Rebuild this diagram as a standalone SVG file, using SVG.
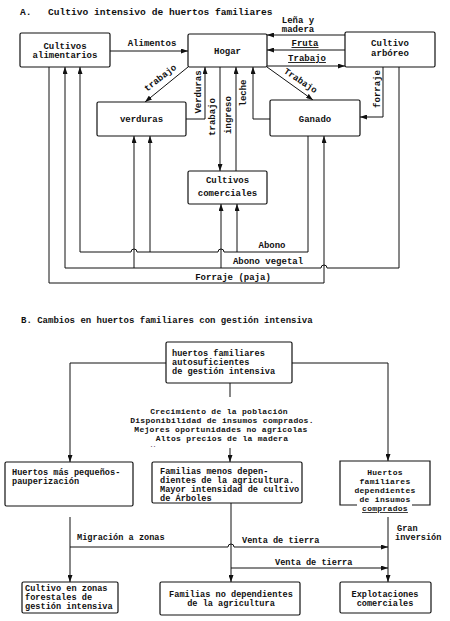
<svg xmlns="http://www.w3.org/2000/svg" width="450" height="621" viewBox="0 0 450 621">
<defs>
<style>
.t{font-family:'Liberation Mono','DejaVu Sans Mono',monospace;font-size:9px;fill:#111;font-weight:bold}
.s{font-size:8.6px}
.c{font-size:8px;letter-spacing:0.3px}
.m{text-anchor:middle}
.u{text-decoration:underline}
.box{fill:#fff;stroke:#111;stroke-width:1.2}
.ln{fill:none;stroke:#111;stroke-width:1}
.ar{marker-end:url(#ah)}
</style>
<marker id="ah" markerWidth="7" markerHeight="5" refX="7" refY="2.5" orient="auto" markerUnits="userSpaceOnUse">
<path d="M0,0 L7,2.5 L0,5 z" fill="#111"/>
</marker>
</defs>
<rect width="450" height="621" fill="#fff"/>

<!-- Part A -->
<text class="t" x="20" y="15" style="font-size:9.6px">A.</text>
<text class="t" x="48" y="15" style="font-size:9.6px">Cultivo intensivo de huertos familiares</text>

<g id="connectors-a">
<path class="ln ar" d="M110,51 H188"/>
<path class="ln ar" d="M345,35 H267"/>
<path class="ln ar" d="M345,50 H267"/>
<path class="ln ar" d="M267,66 H345"/>
<path class="ln ar" d="M188,67 L145,102"/>
<path class="ln ar" d="M267,67 L313,100"/>
<path class="ln ar" d="M186,119 H205 V67"/>
<path class="ln ar" d="M220,67 V171"/>
<path class="ln ar" d="M236,171 V67"/>
<path class="ln ar" d="M270,119 H253 V67"/>
<path class="ln ar" d="M383,67 V117 H360"/>
<path class="ln ar" d="M49,67 V283 H324 V136"/>
<path class="ln ar" d="M399,67 V268 H327 a3,3 0 0 0 -6,0 H65 V67"/>
<path class="ln ar" d="M134,268 V136"/>
<path class="ln ar" d="M221,268 V204"/>
<path class="ln ar" d="M308,136 V252 H224 a3,3 0 0 0 -6,0 H137 a3,3 0 0 0 -6,0 H80 V67"/>
<path class="ln ar" d="M150,252 V136"/>
<path class="ln ar" d="M237,252 V204"/>
<text class="t m" x="152" y="46">Alimentos</text>
<text class="t m" x="298" y="23">Leña y</text>
<text class="t m" x="298" y="32">madera</text>
<text class="t m u" x="305" y="46">Fruta</text>
<text class="t m u" x="307" y="61">Trabajo</text>
<text class="t m" transform="translate(162,80) rotate(-38)">trabajo</text>
<text class="t m" transform="translate(299,83) rotate(34)">Trabajo</text>
<text class="t m" transform="translate(201,92) rotate(-90)">Verduras</text>
<text class="t m" transform="translate(215,117) rotate(-90)">trabajo</text>
<text class="t m" transform="translate(231,115) rotate(-90)">ingreso</text>
<text class="t m" transform="translate(246,93) rotate(-90)">leche</text>
<text class="t m" transform="translate(380,89) rotate(-90)">forraje</text>
<text class="t m" x="272" y="248">Abono</text>
<text class="t m" x="268" y="264">Abono vegetal</text>
<text class="t m" x="233" y="280">Forraje (paja)</text>
</g>

<g id="cultivos-alimentarios">
<rect class="box" x="20" y="33" width="90" height="34" rx="1.5"/>
<text class="t m" x="65" y="49">Cultivos</text>
<text class="t m" x="65" y="58">alimentarios</text>
</g>
<g id="hogar">
<rect class="box" x="188" y="34" width="79" height="33" rx="1.5"/>
<text class="t m" x="227.5" y="54">Hogar</text>
</g>
<g id="cultivo-arboreo">
<rect class="box" x="345" y="32" width="90" height="35" rx="1.5"/>
<text class="t m" x="390" y="46">Cultivo</text>
<text class="t m" x="390" y="56">arbóreo</text>
</g>
<g id="verduras">
<rect class="box" x="97" y="102" width="89" height="34" rx="1.5"/>
<text class="t m" x="141.5" y="122">verduras</text>
</g>
<g id="ganado">
<rect class="box" x="270" y="100" width="90" height="36" rx="1.5"/>
<text class="t m" x="315" y="122">Ganado</text>
</g>
<g id="cultivos-comerciales">
<rect class="box" x="188" y="171" width="79" height="33" rx="1.5"/>
<text class="t m" x="227.5" y="183">Cultivos</text>
<text class="t m" x="227.5" y="196">comerciales</text>
</g>

<!-- Part B -->
<text class="t" x="21" y="323">B. Cambios en huertos familiares con gestión intensiva</text>

<g id="connectors-b">
<path class="ln ar" d="M166,363 H70 V462"/>
<path class="ln ar" d="M292,363 H388 V461"/>
<path class="ln" d="M230,383 V397"/>
<path class="ln ar" d="M230,448 V462"/>
<path class="ln ar" d="M70,517 V582"/>
<path class="ln ar" d="M70,547 H228 a3,3 0 0 1 6,0 H388"/>
<path class="ln ar" d="M231,503 V582"/>
<path class="ln ar" d="M231,568 H388"/>
<path class="ln ar" d="M388,517 V582"/>
<text class="t m c" x="219" y="414">Crecimiento de la población</text>
<text class="t m c" x="222" y="423">Disponibilidad de insumos comprados.</text>
<text class="t m c" x="221" y="432">Mejores oportunidades no agricolas</text>
<text class="t m c" x="222" y="441">Altos precios de la madera</text>
<text class="t" x="150" y="447" style="font-size:5px">..</text>
<text class="t s" x="77" y="540">Migración a zonas</text>
<text class="t s" x="242" y="543">Venta de tierra</text>
<text class="t s" x="275" y="565">Venta de tierra</text>
<text class="t s" x="397" y="531">Gran</text>
<text class="t s" x="395" y="540">inversión</text>
</g>

<g id="huertos-autosuficientes">
<rect class="box" x="166" y="342" width="126" height="41" rx="1.5"/>
<text class="t s" x="172" y="356">huertos familiares</text>
<text class="t s" x="172" y="365">autosuficientes</text>
<text class="t s" x="172" y="374">de gestión intensiva</text>
</g>
<g id="huertos-pequenos">
<rect class="box" x="5" y="462" width="128" height="44" rx="1.5"/>
<text class="t s" x="12" y="475">Huertos más pequeños-</text>
<text class="t s" x="12" y="484">pauperización</text>
</g>
<g id="familias-menos">
<rect class="box" x="152" y="462" width="150" height="41" rx="1.5"/>
<text class="t s" x="160" y="474">Familias menos depen-</text>
<text class="t s" x="160" y="483">dientes de la agricultura.</text>
<text class="t s" x="160" y="492">Mayor intensidad de cultivo</text>
<text class="t s" x="160" y="501">de Árboles</text>
</g>
<g id="huertos-dependientes">
<path class="box" style="fill:none" d="M357,505 H340 V461 H430 V505 H412"/>
<text class="t m c" x="385" y="475">Huertos</text>
<text class="t m c" x="385" y="484">familiares</text>
<text class="t m c" x="385" y="493">dependientes</text>
<text class="t m c" x="385" y="502">de insumos</text>
<text class="t m c u" x="385" y="511">comprados</text>
</g>
<g id="cultivo-zonas-forestales">
<rect class="box" x="22" y="582" width="96" height="31" rx="1.5"/>
<text class="t s" x="25" y="591">Cultivo en zonas</text>
<text class="t s" x="25" y="600">forestales  de</text>
<text class="t s" x="25" y="609">gestión intensiva</text>
</g>
<g id="familias-no-dependientes">
<rect class="box" x="160" y="582" width="140" height="33" rx="1.5"/>
<text class="t m s" x="231" y="597">Familias no dependientes</text>
<text class="t m s" x="231" y="606">de la agricultura</text>
</g>
<g id="explotaciones-comerciales">
<rect class="box" x="340" y="582" width="91" height="31" rx="1.5"/>
<text class="t m s" x="385" y="597">Explotaciones</text>
<text class="t m s" x="385" y="606">comerciales</text>
</g>
</svg>
